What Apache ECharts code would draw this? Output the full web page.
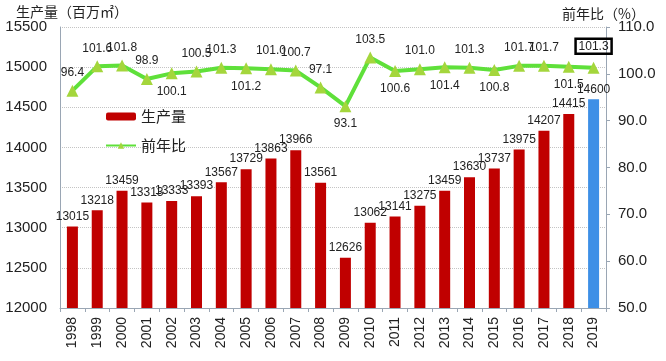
<!DOCTYPE html>
<html><head><meta charset="utf-8">
<script src="https://cdn.jsdelivr.net/npm/echarts@6/dist/echarts.min.js"></script>
<style>html,body{margin:0;padding:0;background:#fff}#c{width:666px;height:361px}</style>
</head><body><div id="c"></div>
<script>
const years = ['1998','1999','2000','2001','2002','2003','2004','2005','2006','2007','2008','2009','2010','2011','2012','2013','2014','2015','2016','2017','2018','2019'];
const production = [13015,13218,13459,13313,13333,13393,13567,13729,13863,13966,13561,12626,13062,13141,13275,13459,13630,13737,13975,14207,14415,14600];
const yoy = [96.4,101.6,101.8,98.9,100.1,100.5,101.3,101.2,101.0,100.7,97.1,93.1,103.5,100.6,101.0,101.4,101.3,100.8,101.7,101.7,101.5,101.3];
const yoyLabelPos = ['top','top','top','top','bottom','top','top','bottom','top','top','top','bottom','top','bottom','top','bottom','top','bottom','top','top','bottom','top'];
const leftTitle = '生产量（百万㎡）';
const rightTitle = '前年比（%）';

const numFont = 'Liberation Sans, Arial, sans-serif';
const cjkFont = 'Noto Sans CJK SC, sans-serif';

const chart = echarts.init(document.getElementById('c'), null, {renderer:'canvas'});
const barData = production.map((v,i)=>({
  value:v,
  itemStyle:{color: i===production.length-1 ? '#3d8fe6' : '#c00000'}
}));
const lineData = yoy.map((v,i)=>{
  const d = {value:v, label:{position:yoyLabelPos[i]}};
  if(i===yoy.length-1){
    d.label = {position:'top', distance:8, borderColor:'#000', borderWidth:2.5, padding:[2,3,1,3]};
  }
  return d;
});
chart.setOption({
  animation:false,
  textStyle:{fontFamily:numFont},
  grid:{left:60,right:60,top:27,bottom:53},
  legend:{
    orient:'vertical', left:100, top:104, itemGap:14, itemWidth:30, itemHeight:8,
    textStyle:{fontFamily:cjkFont,fontSize:15,color:'#222'},
    data:['生产量','前年比']
  },
  graphic:[
    {type:'text',left:16,top:5,style:{text:leftTitle,font:'14px '+cjkFont,fill:'#222'}},
    {type:'text',left:562,top:7,style:{text:rightTitle,font:'14px '+cjkFont,fill:'#222'}}
  ],
  xAxis:{
    type:'category', data:years, boundaryGap:true,
    axisLine:{lineStyle:{color:'#9aa6b4',width:1}},
    axisTick:{show:true,length:4,lineStyle:{color:'#9aa6b4'}},
    axisLabel:{rotate:90,fontSize:14,color:'#222',margin:9,fontFamily:numFont}
  },
  yAxis:[
    {type:'value',min:12000,max:15500,interval:500,
     axisLine:{show:true,lineStyle:{color:'#9aa6b4'}},
     axisTick:{show:false},
     axisLabel:{fontSize:15,color:'#222',margin:13,fontFamily:numFont,formatter:v=>String(v)},
     splitLine:{show:true,lineStyle:{color:'#c4c4c4',type:'dotted',width:1}}},
    {type:'value',min:50,max:110,interval:10,
     axisLine:{show:true,lineStyle:{color:'#9aa6b4'}},
     axisTick:{show:true,length:4,lineStyle:{color:'#9aa6b4'}},
     axisLabel:{fontSize:15,color:'#222',margin:12,fontFamily:numFont,formatter:v=>v.toFixed(1)},
     splitLine:{show:false}}
  ],
  series:[
    {name:'生产量',type:'bar',data:barData,barWidth:11,yAxisIndex:0,
     itemStyle:{color:'#c00000'},
     label:{show:true,position:'top',distance:4,fontSize:12,color:'#222',fontFamily:numFont}},
    {name:'前年比',type:'line',data:lineData,yAxisIndex:1,
     symbol:'triangle',symbolSize:12,
     lineStyle:{color:'#5fe03a',width:4},
     itemStyle:{color:'#a4d63c'},
     label:{show:true,fontSize:12,color:'#222',distance:6,fontFamily:numFont,formatter:p=>p.value.toFixed(1)},
     z:5}
  ]
});
</script></body></html>
